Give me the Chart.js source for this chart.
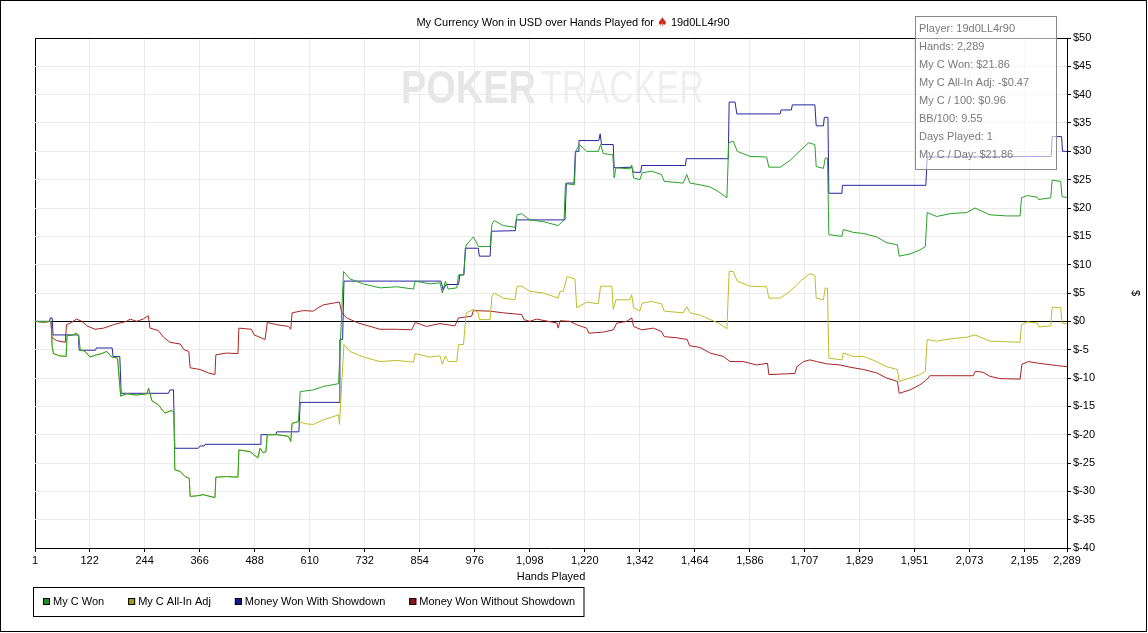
<!DOCTYPE html>
<html>
<head>
<meta charset="utf-8">
<title>My Currency Won in USD over Hands Played</title>
<script src="https://cdn.jsdelivr.net/npm/chart.js@4.4.1/dist/chart.umd.min.js"></script>
<style>
	html, body { margin: 0; padding: 0; background: #fff; }
	#wrap { position: relative; width: 1148px; height: 633px; }
</style>
</head>
<body>
<div id="wrap"><canvas id="graph"></canvas></div>
<script>

var titleText = "My Currency Won in USD over Hands Played for";
var playerName = "19d0LL4r90";

var seriesNames = ["My C Won", "My C All-In Adj", "Money Won With Showdown", "Money Won Without Showdown"];

var xTickValues = [1, 122, 244, 366, 488, 610, 732, 854, 976, 1098, 1220, 1342, 1464, 1586, 1707, 1829, 1951, 2073, 2195, 2289];

var infoLines = [
	"Player: 19d0LL4r90",
	"Hands: 2,289",
	"My C Won: $21.86",
	"My C All-In Adj: -$0.47",
	"My C / 100: $0.96",
	"BB/100: 9.55",
	"Days Played: 1",
	"My C / Day: $21.86"
];

// My C Won
var wonHands = [1, 20, 34, 37, 39, 42, 56, 70, 72, 82, 93, 98, 101, 112, 123, 138, 149, 160, 171, 184, 191, 204, 226, 249, 253, 260, 274, 289, 304, 309, 311, 323, 334, 343, 345, 359, 374, 389, 400, 402, 426, 451, 453, 478, 495, 500, 507, 513, 516, 537, 563, 568, 571, 585, 589, 618, 640, 674, 677, 685, 699, 729, 766, 803, 840, 844, 877, 899, 904, 911, 917, 936, 940, 951, 957, 973, 984, 1010, 1014, 1019, 1039, 1065, 1070, 1080, 1098, 1128, 1161, 1174, 1177, 1197, 1200, 1208, 1224, 1250, 1255, 1261, 1282, 1285, 1289, 1320, 1324, 1328, 1342, 1347, 1368, 1390, 1396, 1438, 1446, 1453, 1475, 1498, 1516, 1535, 1539, 1549, 1558, 1586, 1623, 1628, 1653, 1675, 1701, 1716, 1730, 1733, 1749, 1753, 1758, 1761, 1790, 1793, 1815, 1838, 1867, 1889, 1913, 1917, 1941, 1963, 1975, 1979, 2000, 2030, 2067, 2085, 2118, 2155, 2185, 2188, 2201, 2223, 2226, 2253, 2256, 2275, 2278, 2289];
var wonValues = [0, -0.1, 0, -0.2, -4.4, -5.7, -6.1, -6.2, -2.5, -2.5, -2.1, -2.5, -5.0, -5.3, -6.3, -5.9, -5.7, -5.3, -6.3, -6.5, -13.2, -12.8, -13.0, -12.8, -11.8, -14.0, -14.7, -16.2, -15.7, -16.2, -26.2, -26.5, -27.4, -27.7, -30.9, -30.8, -30.6, -30.9, -31.1, -27.5, -27.4, -27.5, -22.7, -23.0, -24.1, -22.4, -23.2, -23.0, -20.0, -20.0, -20.3, -21.2, -18.0, -17.7, -12.4, -12.1, -11.5, -11.0, -5.6, 8.8, 7.5, 6.6, 5.9, 6.1, 5.7, 7.1, 6.6, 6.8, 5.0, 7.1, 5.7, 5.9, 8.2, 8.2, 13.5, 14.9, 13.2, 13.2, 17.1, 17.8, 16.9, 16.6, 18.8, 19.0, 17.9, 17.6, 16.9, 17.9, 24.3, 24.1, 30.0, 31.2, 30.0, 30.0, 31.2, 29.6, 29.4, 25.3, 27.1, 26.9, 27.6, 25.3, 25.0, 26.2, 26.5, 25.9, 24.7, 24.4, 25.9, 24.4, 24.1, 23.7, 22.9, 21.8, 31.5, 31.8, 30.0, 29.1, 29.0, 27.2, 27.2, 28.4, 30.4, 31.5, 31.2, 27.3, 27.0, 28.8, 28.8, 15.3, 15.0, 16.2, 15.7, 15.5, 14.9, 13.9, 13.5, 11.5, 11.9, 12.6, 13.2, 19.2, 18.5, 19.0, 19.2, 20.0, 18.8, 18.6, 18.6, 21.8, 22.2, 21.9, 21.5, 21.8, 24.9, 24.7, 22.0, 21.86];

// My C All-In Adj
var adjHands = [1, 20, 34, 37, 39, 42, 56, 70, 72, 82, 93, 98, 101, 112, 123, 138, 149, 160, 171, 184, 191, 204, 226, 249, 253, 260, 274, 289, 304, 309, 311, 323, 334, 343, 345, 359, 374, 389, 400, 402, 426, 451, 453, 478, 495, 500, 507, 513, 516, 537, 563, 568, 571, 585, 589, 603, 618, 640, 674, 676, 681, 686, 699, 729, 766, 803, 840, 844, 877, 899, 904, 911, 917, 936, 940, 951, 957, 973, 984, 986, 1010, 1014, 1019, 1039, 1065, 1070, 1080, 1098, 1128, 1161, 1165, 1172, 1181, 1198, 1202, 1224, 1250, 1255, 1280, 1283, 1289, 1320, 1324, 1328, 1342, 1347, 1368, 1390, 1396, 1438, 1446, 1453, 1475, 1498, 1516, 1535, 1540, 1549, 1558, 1586, 1623, 1628, 1653, 1675, 1701, 1719, 1730, 1733, 1749, 1753, 1758, 1761, 1790, 1793, 1815, 1838, 1867, 1889, 1913, 1917, 1941, 1963, 1975, 1979, 2000, 2030, 2067, 2085, 2118, 2155, 2185, 2188, 2201, 2223, 2226, 2253, 2256, 2275, 2278, 2289];
var adjValues = [0, -0.1, 0, -0.2, -4.4, -5.7, -6.1, -6.2, -2.5, -2.5, -2.1, -2.5, -5.0, -5.3, -6.3, -5.9, -5.7, -5.3, -6.3, -6.5, -13.2, -12.8, -13.0, -12.8, -11.8, -14.0, -14.7, -16.2, -15.7, -16.2, -26.2, -26.5, -27.4, -27.7, -30.9, -30.8, -30.6, -30.9, -31.1, -27.5, -27.4, -27.5, -22.7, -23.0, -24.1, -22.4, -23.2, -23.0, -20.0, -20.0, -20.3, -21.2, -18.0, -17.7, -17.8, -18.1, -18.2, -17.4, -16.5, -18.2, -10.9, -4.1, -5.3, -6.3, -7.1, -6.9, -7.2, -5.7, -6.3, -6.1, -7.6, -6.1, -7.1, -7.1, -4.1, -4.1, 1.5, 2.1, 1.5, 0.3, 0.3, 4.4, 5.0, 4.1, 3.8, 6.2, 6.2, 5.3, 5.0, 4.1, 5.3, 5.3, 7.9, 7.5, 2.4, 3.4, 3.1, 6.2, 6.2, 2.1, 3.8, 3.8, 4.7, 2.4, 1.8, 3.2, 3.5, 3.1, 1.8, 1.5, 2.6, 1.5, 1.1, 0.3, -0.3, -1.3, 8.8, 8.8, 7.1, 6.2, 6.1, 4.1, 4.1, 5.3, 7.3, 8.4, 8.1, 4.1, 3.8, 5.9, 5.8, -6.5, -6.8, -5.6, -6.2, -6.2, -7.1, -8.0, -8.5, -10.6, -10.0, -9.4, -8.8, -3.2, -3.5, -3.1, -2.8, -2.4, -3.5, -3.6, -3.7, -0.6, -0.1, -0.3, -1.0, -0.8, 2.5, 2.4, -0.3, -0.47];

// Money Won With Showdown
var sdHands = [1, 33, 35, 39, 41, 97, 99, 135, 137, 172, 174, 189, 192, 297, 300, 308, 311, 363, 367, 376, 378, 500, 502, 535, 537, 586, 589, 675, 677, 683, 686, 901, 903, 906, 912, 940, 943, 952, 955, 984, 986, 1010, 1013, 1066, 1068, 1176, 1179, 1196, 1199, 1205, 1207, 1251, 1254, 1257, 1283, 1285, 1324, 1328, 1344, 1346, 1443, 1445, 1538, 1540, 1553, 1557, 1653, 1655, 1678, 1680, 1730, 1733, 1749, 1751, 1759, 1761, 1790, 1791, 1976, 1979, 2254, 2256, 2277, 2279, 2289];
var sdValues = [0, 0, 0.6, 0.6, -2.4, -2.4, -5.1, -5.1, -4.7, -4.7, -6.2, -6.2, -12.7, -12.7, -12.1, -12.1, -22.4, -22.4, -22.0, -22.0, -21.7, -21.7, -20.0, -20.0, -19.5, -19.5, -14.3, -14.3, -3.2, -3.2, 7.1, 7.1, 6.5, 5.5, 6.5, 6.5, 8.2, 8.2, 12.9, 12.9, 11.5, 11.5, 15.9, 16.0, 17.9, 17.9, 24.4, 24.4, 30.0, 30.0, 31.9, 31.9, 33.1, 31.2, 31.2, 27.1, 27.2, 26.3, 26.3, 27.5, 27.5, 28.7, 28.7, 38.7, 38.7, 36.6, 36.6, 37.3, 37.3, 38.2, 38.2, 34.5, 34.5, 36.0, 36.0, 22.6, 22.6, 24.0, 24.0, 29.0, 29.1, 32.6, 32.6, 30.0, 30.0];

// Money Won Without Showdown
var nsdHands = [1, 20, 36, 39, 49, 68, 71, 82, 93, 105, 116, 134, 153, 175, 204, 212, 226, 241, 252, 256, 274, 286, 300, 323, 331, 342, 345, 367, 385, 400, 402, 426, 451, 453, 481, 487, 511, 516, 537, 563, 568, 571, 596, 618, 627, 640, 668, 676, 681, 692, 718, 766, 803, 836, 844, 869, 899, 932, 940, 969, 973, 1010, 1039, 1080, 1085, 1098, 1113, 1158, 1161, 1165, 1187, 1202, 1224, 1229, 1261, 1283, 1291, 1313, 1324, 1328, 1346, 1372, 1390, 1396, 1424, 1447, 1452, 1475, 1498, 1527, 1542, 1571, 1601, 1625, 1628, 1686, 1690, 1705, 1719, 1734, 1756, 1786, 1808, 1838, 1867, 1889, 1913, 1917, 1941, 1963, 1978, 1985, 2030, 2081, 2086, 2103, 2118, 2140, 2185, 2189, 2203, 2226, 2266, 2289];
var nsdValues = [0, -0.2, 0, -2.9, -3.4, -3.7, -0.6, -0.2, 0.4, 0, -0.8, -1.4, -1.2, -0.6, 0, 0.4, 0, 0.4, 1.0, -1.2, -1.6, -2.8, -3.7, -4.0, -5.0, -5.3, -8.2, -8.5, -9.1, -9.4, -5.9, -5.6, -5.7, -1.2, -1.4, -2.4, -3.2, -0.2, -0.6, -0.9, -1.4, 1.5, 1.9, 1.8, 2.3, 2.9, 3.3, 3.4, 1.5, 0.6, -0.3, -1.4, -1.4, -1.5, -0.2, -0.9, -0.4, -0.8, 0.6, 0.9, 1.9, 1.8, 1.5, 1.2, 0.3, 0.0, 0.4, -0.3, -1.2, 0.1, 0.0, -0.6, -1.2, -2.1, -1.9, -1.5, -0.3, 0.0, 0.6, -0.9, -1.5, -1.2, -1.8, -2.7, -2.9, -3.2, -4.3, -4.6, -5.6, -6.2, -7.1, -7.1, -7.7, -7.4, -9.4, -9.2, -8.0, -7.1, -6.8, -7.1, -7.5, -7.7, -8.1, -8.5, -9.1, -10.0, -10.6, -12.7, -12.1, -11.2, -10.3, -9.6, -9.6, -9.6, -8.8, -9.0, -9.7, -10.1, -10.2, -7.6, -7.1, -7.4, -7.8, -8.0];


var FONT = "'Liberation Sans', Arial, sans-serif";

function toPoints(hands, values){
	var pts = [];
	for (var i = 0; i < hands.length; i++) {
		pts.push({x: hands[i], y: values[i]});
	}
	return pts;
}

function money(v){
	return '$' + v;
}

function commas(v){
	return String(v).replace(/\B(?=(\d{3})+(?!\d))/g, ',');
}

function makeSeries(name, hands, values, line, box){
	return {
		label: name,
		data: toPoints(hands, values),
		borderColor: line,
		backgroundColor: box,
		borderWidth: 1,
		pointRadius: 0,
		tension: 0,
		fill: false
	};
}

//frame, title, watermark, info box and legend
var decorPlugin = {
	id: 'decor',
	beforeDraw: function(chart){
		var ctx = chart.ctx, a = chart.chartArea;
		var cx = (a.left + a.right) / 2 + 2;
		var base = a.top + 65;
		ctx.save();
		ctx.textBaseline = 'alphabetic';
		ctx.font = "bold 46px " + FONT;
		var w1 = ctx.measureText("POKER").width;
		ctx.font = "46px " + FONT;
		var w2 = ctx.measureText("TRACKER").width;
		var left = cx - 152;
		ctx.save();
		ctx.translate(left, base);
		ctx.scale(135 / w1, 1);
		ctx.font = "bold 46px " + FONT;
		ctx.fillStyle = '#e6e6e6';
		ctx.fillText("POKER", 0, 0);
		ctx.restore();
		ctx.save();
		ctx.translate(left + 140, base);
		ctx.scale(163 / w2, 1);
		ctx.font = "46px " + FONT;
		ctx.fillStyle = '#efefef';
		ctx.fillText("TRACKER", 0, 0);
		ctx.restore();
		ctx.restore();
	},
	afterDraw: function(chart){
		var ctx = chart.ctx, a = chart.chartArea;
		ctx.save();

		ctx.strokeStyle = '#000';
		ctx.lineWidth = 1;
		ctx.strokeRect(0.5, 0.5, chart.width - 2, chart.height - 2);

		// title with the red spade
		ctx.textBaseline = 'middle';
		ctx.font = "11px " + FONT;
		var t1 = titleText + ' ', t3 = ' ' + playerName;
		var w1 = ctx.measureText(t1).width, w3 = ctx.measureText(t3).width;
		ctx.font = "12px 'DejaVu Sans', " + FONT;
		var w2 = ctx.measureText('\u2660').width;
		var x = chart.width / 2 - 1 - (w1 + w2 + w3) / 2;
		ctx.font = "11px " + FONT;
		ctx.fillStyle = '#000';
		ctx.fillText(t1, x, 23);
		ctx.font = "12px 'DejaVu Sans', " + FONT;
		ctx.fillStyle = '#d42a1e';
		ctx.fillText('\u2660', x + w1, 23);
		ctx.font = "11px " + FONT;
		ctx.fillStyle = '#000';
		ctx.fillText(t3, x + w1 + w2, 23);

		// stats box
		ctx.fillStyle = 'rgba(255,255,255,0.6)';
		ctx.fillRect(915.5, 16.5, 141, 153);
		ctx.strokeStyle = '#8a8a8a';
		ctx.strokeRect(915.5, 16.5, 141, 153);
		ctx.fillStyle = '#7a7a7a';
		for (var i = 0; i < infoLines.length; i++) {
			ctx.fillText(infoLines[i], 919, 28.5 + i * 18.1);
		}

		// legend box
		var sets = chart.data.datasets;
		var lx = a.left + 8, ly = 601.5;
		ctx.font = "11px " + FONT;
		for (var j = 0; j < sets.length; j++) {
			ctx.fillStyle = sets[j].backgroundColor;
			ctx.fillRect(lx, ly - 3.5, 7, 7);
			ctx.strokeStyle = '#000';
			ctx.strokeRect(lx + 0.5, ly - 3, 6, 6);
			ctx.fillStyle = '#000';
			ctx.fillText(sets[j].label, lx + 10, ly);
			lx += 10 + ctx.measureText(sets[j].label).width;
			if (j < sets.length - 1) lx += 24;
		}
		ctx.strokeStyle = '#000';
		ctx.strokeRect(33.5, 587.5, lx + 9 - 33.5, 29);

		ctx.restore();
	}
};

function drawGraph(){

	Chart.defaults.font.family = FONT;
	Chart.defaults.font.size = 11;
	Chart.defaults.color = '#000';

	var ctx = document.getElementById('graph');

	var myLineChart = new Chart(ctx, {
		type: 'line',
		data: {
			datasets: [
				makeSeries(seriesNames[0], wonHands, wonValues, '#27a127', '#1e8c1e'),
				makeSeries(seriesNames[1], adjHands, adjValues, '#bdbd2a', '#9e9e14'),
				makeSeries(seriesNames[2], sdHands, sdValues, '#2626a2', '#16168c'),
				makeSeries(seriesNames[3], nsdHands, nsdValues, '#aa2222', '#8c1414')
			]
		},
		options: {
			responsive: true,
			maintainAspectRatio: false,
			animation: false,
			layout: { padding: { left: 35, top: 38, right: 0, bottom: 45 } },
			plugins: {
				legend: { display: false },
				tooltip: { enabled: false },
				title: { display: false }
			},
			scales: {
				x: {
					type: 'linear',
					min: 1,
					max: 2289,
					afterBuildTicks: function(scale){
						scale.ticks = xTickValues.map(function(v){ return {value: v}; });
					},
					afterFit: function(scale){ scale.height = 40; },
					ticks: {
						autoSkip: false,
						maxRotation: 0,
						padding: 2,
						color: '#000',
						callback: function(v){ return commas(v); }
					},
					grid: {
						color: function(c){ return c.tick && c.tick.value === 1 ? '#000' : '#ebebeb'; },
						tickColor: '#000',
						tickLength: 4
					},
					border: { color: '#000' },
					title: { display: true, text: 'Hands Played', color: '#000', padding: { top: 0, bottom: 4 } }
				},
				y: {
					position: 'right',
					min: -40,
					max: 50,
					afterFit: function(scale){ scale.width = 81; },
					ticks: {
						stepSize: 5,
						padding: 2,
						color: '#000',
						callback: money
					},
					grid: {
						color: function(c){ return c.tick && (c.tick.value === 0 || c.tick.value === 50) ? '#000' : '#ebebeb'; },
						tickColor: '#000',
						tickLength: 4
					},
					border: { color: '#000' },
					title: { display: true, text: '$', color: '#000', padding: { top: 6, bottom: 0 } }
				}
			}
		},
		plugins: [decorPlugin]
	});
}

drawGraph();

</script>
</body>
</html>
